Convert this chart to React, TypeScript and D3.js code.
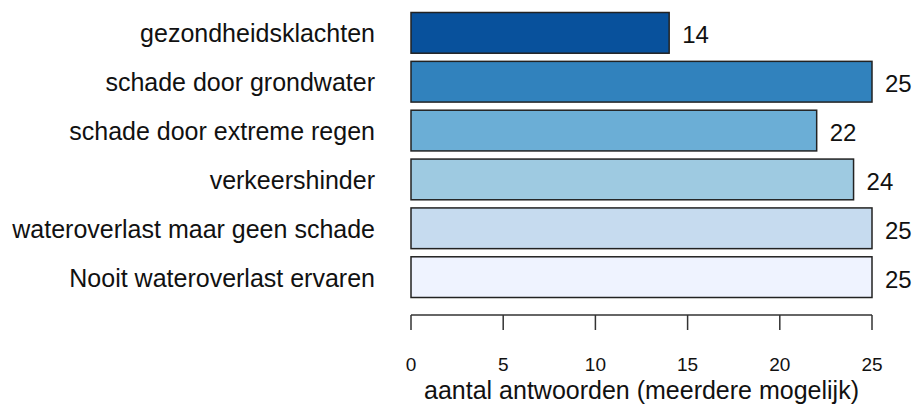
import React from "react";
import * as d3 from "d3";

const categories = [
  "gezondheidsklachten",
  "schade door grondwater",
  "schade door extreme regen",
  "verkeershinder",
  "wateroverlast maar geen schade",
  "Nooit wateroverlast ervaren",
];
const values = [14, 25, 22, 24, 25, 25];
const colors = ["#08519C", "#3182BD", "#6BAED6", "#9ECAE1", "#C6DBEF", "#EFF3FF"];
const ticks = [0, 5, 10, 15, 20, 25];
const xTitle = "aantal antwoorden (meerdere mogelijk)";

export default function App() {
  const W = 916, H = 408;
  const x = d3.scaleLinear().domain([0, 25]).range([411, 872]);
  const y = d3.scaleBand().domain(categories).range([12.5, 297.5]).paddingInner(0.2 / 1.2).paddingOuter(0);
  const font = "'Liberation Sans', Arial, sans-serif";
  return (
    <svg width={W} height={H} style={{ position: "absolute", left: 0, top: 0, background: "#fff" }} fontFamily={font}>
      {categories.map((c, i) => {
        const y0 = y(c)!;
        const bh = y.bandwidth();
        const cy = y0 + bh / 2;
        return (
          <g key={c}>
            <rect x={x(0)} y={y0} width={x(values[i]) - x(0)} height={bh} fill={colors[i]} stroke="#222" strokeWidth={1.5} />
            <text x={375} y={cy + 9.5} textAnchor="end" fontSize={25} fill="#111">{c}</text>
            <text x={x(values[i]) + 13} y={cy + 10.5} fontSize={24} fill="#111">{values[i]}</text>
          </g>
        );
      })}
      <line x1={x(0)} x2={x(25)} y1={315} y2={315} stroke="#333" strokeWidth={1.5} />
      {ticks.map((t) => (
        <g key={t}>
          <line x1={x(t)} x2={x(t)} y1={315} y2={330} stroke="#333" strokeWidth={1.5} />
          <text x={x(t)} y={371} textAnchor="middle" fontSize={19} fill="#111">{t}</text>
        </g>
      ))}
      <text x={(x(0) + x(25)) / 2} y={399} textAnchor="middle" fontSize={25} fill="#111">{xTitle}</text>
    </svg>
  );
}
